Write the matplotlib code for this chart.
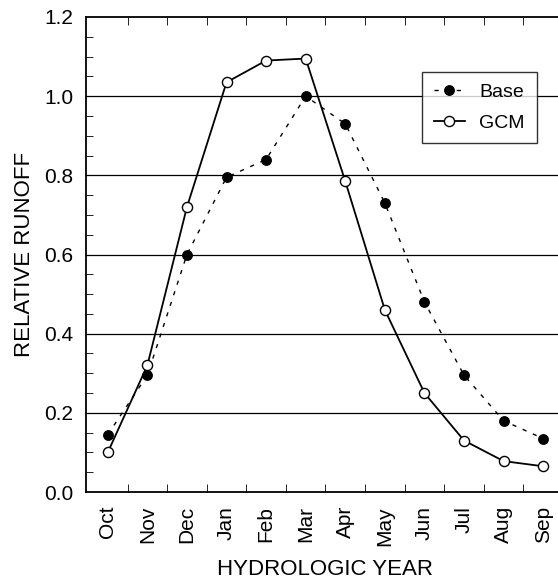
import numpy as np
import matplotlib.pyplot as plt
from matplotlib.ticker import MultipleLocator, FixedLocator

plt.rcParams['font.family'] = ['Liberation Sans', 'DejaVu Sans']

months = ['Oct', 'Nov', 'Dec', 'Jan', 'Feb', 'Mar',
          'Apr', 'May', 'Jun', 'Jul', 'Aug', 'Sep']
base = [0.145, 0.295, 0.60, 0.795, 0.84, 1.0,
        0.93, 0.73, 0.48, 0.295, 0.18, 0.135]
gcm = [0.10, 0.32, 0.72, 1.035, 1.09, 1.095,
       0.785, 0.46, 0.25, 0.13, 0.078, 0.065]

x = np.arange(len(months))

fig = plt.figure(figsize=(5.58, 5.86), dpi=100)
# axes box: left 86px, top 17px, bottom 492px, right edge runs off the image
ax = fig.add_axes([86/558, 1 - 492/586, 477/558, 475/586])

for yv in [0.2, 0.4, 0.6, 0.8, 1.0]:
    ax.axhline(yv, color='black', lw=0.9, zorder=1)

ax.plot(x, base, linestyle=(0, (3, 5)), color='black', lw=1.0,
        marker='o', markersize=6.8, markerfacecolor='black',
        markeredgecolor='black', label='Base', zorder=3)
ax.plot(x, gcm, linestyle='-', color='black', lw=1.3,
        marker='o', markersize=7.3, markerfacecolor='white',
        markeredgecolor='black', markeredgewidth=1.0, label='GCM', zorder=4)

ax.set_xlim(-0.55, 11.5)
ax.set_ylim(0, 1.2)
ax.set_xticks(x)
ax.set_xticklabels(months, rotation=90, fontsize=15)
ax.xaxis.set_minor_locator(FixedLocator(np.arange(0.5, 11, 1.0)))
ax.yaxis.set_major_locator(MultipleLocator(0.2))
ax.yaxis.set_minor_locator(MultipleLocator(0.05))
ax.set_yticklabels([f'{v:.1f}' for v in ax.get_yticks()], fontsize=15)
ax.tick_params(axis='x', which='major', length=0, pad=10)
ax.tick_params(axis='x', which='minor', direction='in', length=6,
               top=True, bottom=True)
ax.tick_params(axis='y', which='major', direction='in', length=0, pad=9)
ax.tick_params(axis='y', which='minor', direction='in', length=5)
for s in ax.spines.values():
    s.set_linewidth(1.3)

ax.set_ylabel('RELATIVE RUNOFF', fontsize=16, labelpad=7)
ax.set_xlabel('HYDROLOGIC YEAR', fontsize=16, labelpad=10)

leg = ax.legend(loc='upper left', bbox_to_anchor=(336/477, 1 - 55/475),
                fontsize=14, frameon=True, fancybox=False,
                handlelength=1.6, borderpad=0.6, labelspacing=0.65,
                handletextpad=0.75, borderaxespad=0)
leg.get_frame().set_edgecolor('black')
leg.get_frame().set_linewidth(1.0)
leg.set_zorder(5)

fig.savefig('out.png', dpi=100)
